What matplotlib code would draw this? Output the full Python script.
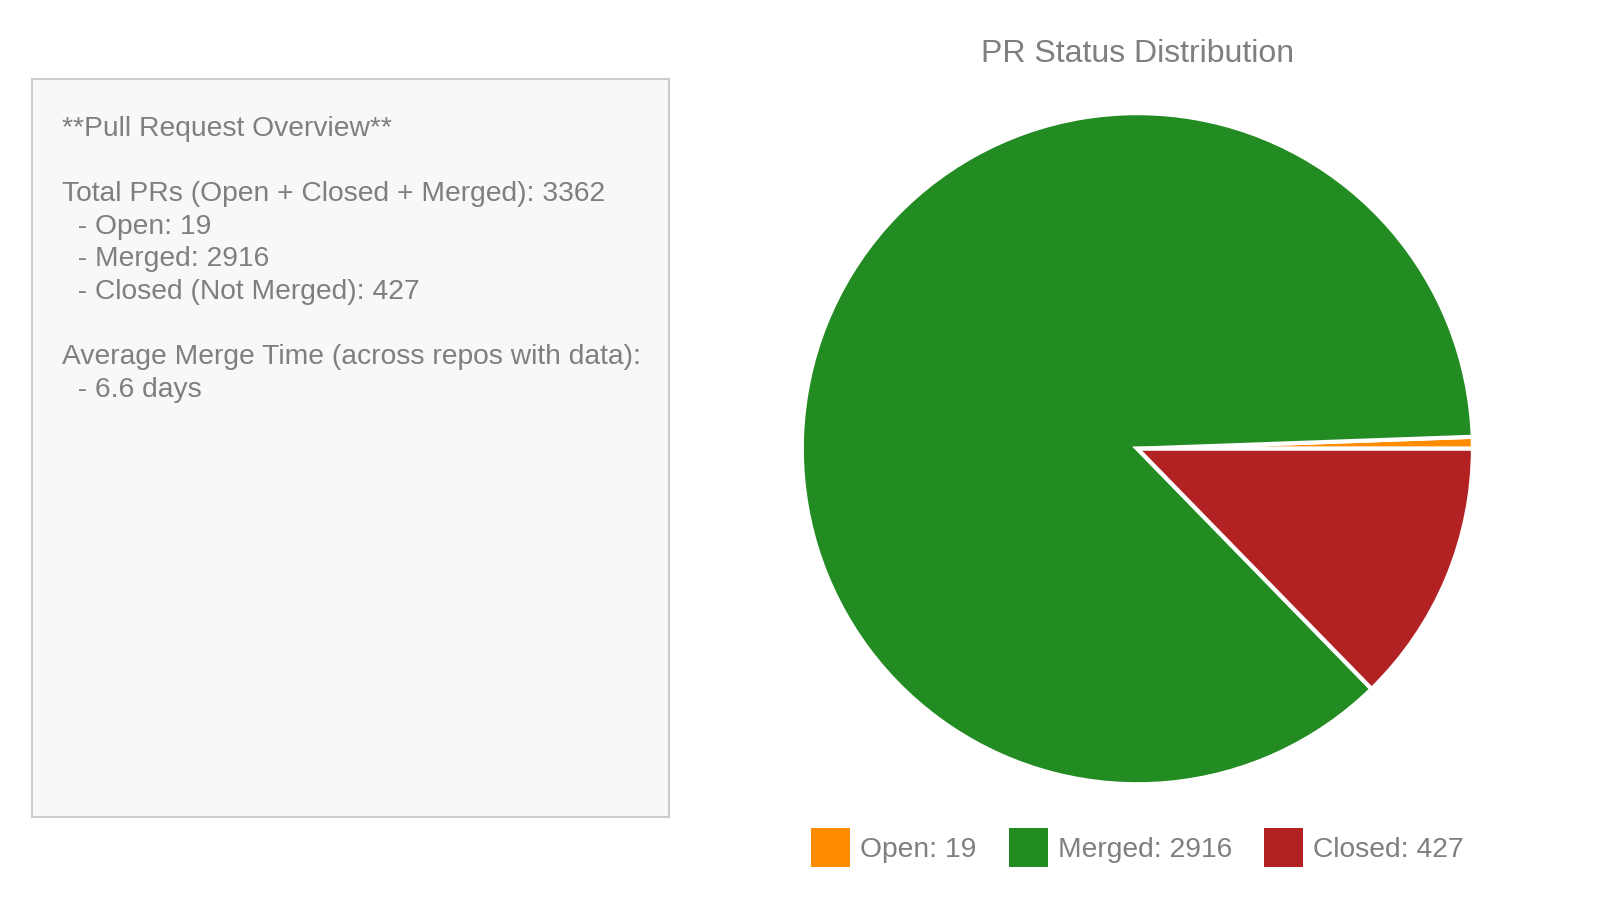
import matplotlib.pyplot as plt
from matplotlib.patches import Rectangle, Patch

plt.rcParams.update({
    "font.family": ["Liberation Sans", "DejaVu Sans"],
    "text.color": "#7f7f7f",
})

statuses = ["Open", "Merged", "Closed"]
counts = [19, 2916, 427]
colors = ["#FF8C00", "#228B22", "#B22222"]

summary_lines = [
    "**Pull Request Overview**",
    "",
    "Total PRs (Open + Closed + Merged): 3362",
    "  - Open: 19",
    "  - Merged: 2916",
    "  - Closed (Not Merged): 427",
    "",
    "Average Merge Time (across repos with data):",
    "  - 6.6 days",
]

fig = plt.figure(figsize=(16, 9), dpi=100)
fig.patch.set_facecolor("white")

# summary panel on the left
fig.add_artist(Rectangle((0.02, 0.092), 0.398, 0.82, transform=fig.transFigure,
                         facecolor="#f8f8f8", edgecolor="#cccccc", linewidth=1.5))
fig.text(0.039, 0.871, "\n".join(summary_lines), fontsize=20.3, va="top", ha="left",
         linespacing=1.33, color="#7f7f7f")

# pie
ax = fig.add_axes([0.5011, 0.1286, 0.4195, 0.7457])
ax.pie(counts, colors=colors, startangle=0, counterclock=True, radius=1,
       wedgeprops=dict(edgecolor="white", linewidth=3))
ax.set_xlim(-1.0, 1.0)
ax.set_ylim(-1.0, 1.0)
ax.set_aspect("equal")
ax.axis("off")

fig.text(0.711, 0.940, "PR Status Distribution", fontsize=23, ha="center", va="center",
         color="#7f7f7f")

handles = [Patch(facecolor=c, edgecolor="none") for c in colors]
labels = [f"{s}: {n}" for s, n in zip(statuses, counts)]
fig.legend(handles, labels, loc="center", bbox_to_anchor=(0.711, 0.058), ncol=3,
           frameon=False, fontsize=20.3, handlelength=1.376, handleheight=1.74,
           handletextpad=0.36, columnspacing=1.15, labelcolor="#7f7f7f")

fig.savefig("out.png", dpi=100, facecolor="white")
